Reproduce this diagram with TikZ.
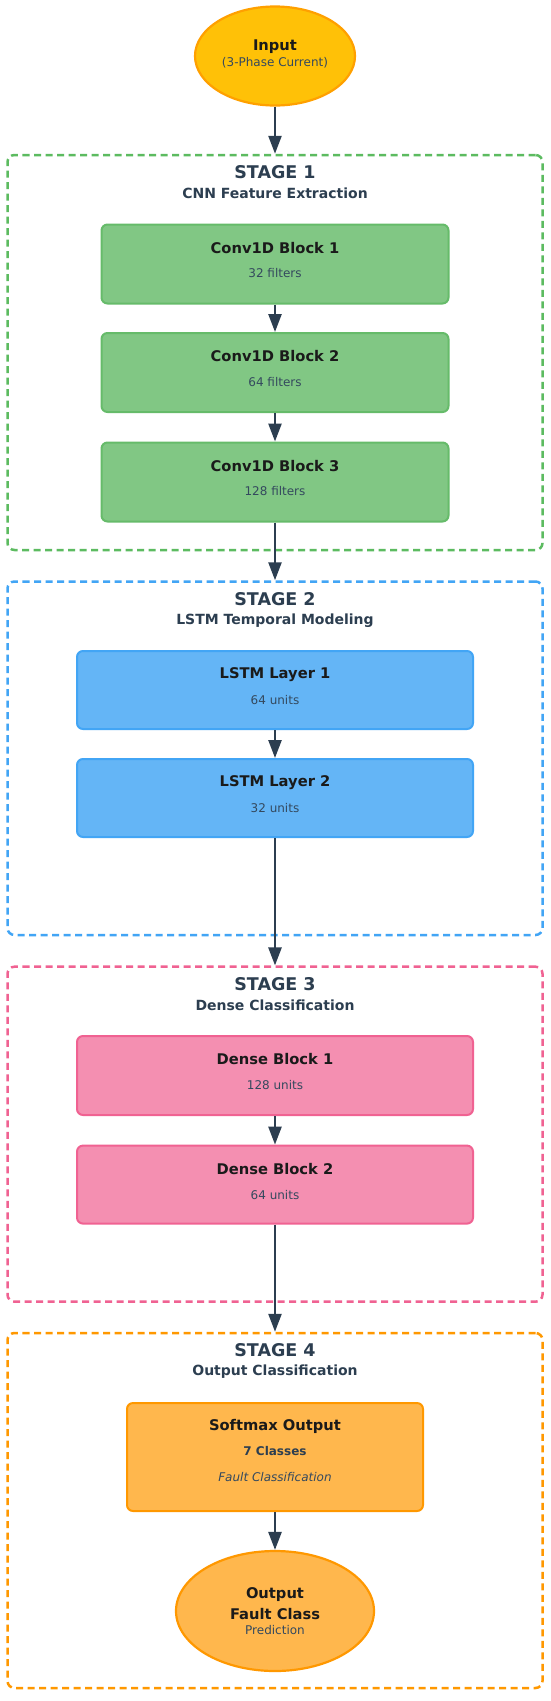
\documentclass[tikz,border=0pt]{standalone}
\usepackage{fontspec}
\setmainfont{DejaVu Sans}
\usetikzlibrary{arrows.meta,shapes.geometric}
\definecolor{arrowc}{HTML}{2C3E50}
\definecolor{titlec}{HTML}{1A1A1A}
\definecolor{subc}{HTML}{34495E}
\definecolor{infill}{HTML}{FFC107}
\definecolor{inline}{HTML}{FFA000}
\definecolor{gdash}{HTML}{5CBB60}
\definecolor{gfill}{HTML}{81C784}
\definecolor{gline}{HTML}{66BB6A}
\definecolor{bdash}{HTML}{42A5F5}
\definecolor{bfill}{HTML}{64B5F6}
\definecolor{bline}{HTML}{42A5F5}
\definecolor{pdash}{HTML}{F06292}
\definecolor{pfill}{HTML}{F48FB1}
\definecolor{pline}{HTML}{F06292}
\definecolor{odash}{HTML}{FF9800}
\definecolor{ofill}{HTML}{FFB74D}
\definecolor{oline}{HTML}{FF9800}
\tikzset{
  stagebox/.style={rectangle, rounded corners=7pt, dash pattern=on 7pt off 4.5pt, line width=2.5pt, minimum width=535pt, inner sep=0pt, fill=white},
  blk/.style={rectangle, rounded corners=6pt, line width=2pt, inner sep=0pt},
  oval/.style={ellipse, line width=2.2pt, inner sep=0pt},
  stt/.style={font=\fontsize{17.5}{21}\selectfont\bfseries, text=arrowc, inner sep=0pt},
  sst/.style={font=\fontsize{14}{17}\selectfont\bfseries, text=arrowc, inner sep=0pt},
  bt/.style={font=\fontsize{14.7}{17}\selectfont\bfseries, text=titlec, inner sep=0pt},
  bs/.style={font=\fontsize{12}{14}\selectfont, text=subc, inner sep=0pt},
  bsb/.style={font=\fontsize{12}{14}\selectfont\bfseries, text=arrowc, inner sep=0pt},
  bsi/.style={font=\fontsize{12}{14}\selectfont\itshape, text=subc, inner sep=0pt},
  flow/.style={-{Triangle[width=13pt,length=18pt]}, line width=2.5pt, draw=arrowc}
}
\begin{document}
\begin{tikzpicture}[x=1pt,y=-1pt]
\useasboundingbox (0,0) rectangle (550,1701);
% input
\node[oval, fill=infill, draw=inline, minimum width=160pt, minimum height=99pt] (in) at (275,56) {};
\node[bt] (inT) at ([yshift=9.5pt]in.center) {Input};
\node[bs] (inS) at ([yshift=-7pt]in.center) {(3-Phase Current)};
% stages
\node[stagebox, draw=gdash, minimum height=395pt] (s1) at (275,352.5) {};
\node[stagebox, draw=bdash, minimum height=353.5pt] (s2) at (275,758.25) {};
\node[stagebox, draw=pdash, minimum height=335pt] (s3) at (275,1134.2) {};
\node[stagebox, draw=odash, minimum height=355pt] (s4) at (275,1510.5) {};
\node[stt] (s1t) at ([yshift=-18.6pt]s1.north) {STAGE 1};
\node[sst] (s1s) at ([yshift=-40pt]s1.north) {CNN Feature Extraction};
\node[stt] (s2t) at ([yshift=-18.6pt]s2.north) {STAGE 2};
\node[sst] (s2s) at ([yshift=-40pt]s2.north) {LSTM Temporal Modeling};
\node[stt] (s3t) at ([yshift=-18.6pt]s3.north) {STAGE 3};
\node[sst] (s3s) at ([yshift=-40pt]s3.north) {Dense Classification};
\node[stt] (s4t) at ([yshift=-18.6pt]s4.north) {STAGE 4};
\node[sst] (s4s) at ([yshift=-40pt]s4.north) {Output Classification};
% stage 1 blocks
\node[blk, fill=gfill, draw=gline, minimum width=347pt, minimum height=79pt] (c1) at (275,264) {};
\node[bt] at ([yshift=-24.5pt]c1.north) {Conv1D Block 1};
\node[bs] at ([yshift=-50pt]c1.north) {32 filters};
\node[blk, fill=gfill, draw=gline, minimum width=347pt, minimum height=79pt] (c2) at (275,372.5) {};
\node[bt] at ([yshift=-24.5pt]c2.north) {Conv1D Block 2};
\node[bs] at ([yshift=-50pt]c2.north) {64 filters};
\node[blk, fill=gfill, draw=gline, minimum width=347pt, minimum height=79pt] (c3) at (275,482) {};
\node[bt] at ([yshift=-24.5pt]c3.north) {Conv1D Block 3};
\node[bs] at ([yshift=-50pt]c3.north) {128 filters};
% stage 2 blocks
\node[blk, fill=bfill, draw=bline, minimum width=396pt, minimum height=78pt] (l1) at (275,690) {};
\node[bt] at ([yshift=-24.5pt]l1.north) {LSTM Layer 1};
\node[bs] at ([yshift=-50pt]l1.north) {64 units};
\node[blk, fill=bfill, draw=bline, minimum width=396pt, minimum height=78pt] (l2) at (275,798) {};
\node[bt] at ([yshift=-24.5pt]l2.north) {LSTM Layer 2};
\node[bs] at ([yshift=-50pt]l2.north) {32 units};
% stage 3 blocks
\node[blk, fill=pfill, draw=pline, minimum width=396pt, minimum height=79pt] (d1) at (275,1075.5) {};
\node[bt] at ([yshift=-24.5pt]d1.north) {Dense Block 1};
\node[bs] at ([yshift=-50pt]d1.north) {128 units};
\node[blk, fill=pfill, draw=pline, minimum width=396pt, minimum height=78pt] (d2) at (275,1184.6) {};
\node[bt] at ([yshift=-24.5pt]d2.north) {Dense Block 2};
\node[bs] at ([yshift=-50pt]d2.north) {64 units};
% stage 4
\node[blk, fill=ofill, draw=oline, minimum width=296pt, minimum height=108pt] (sm) at (275,1457) {};
\node[bt] at ([yshift=-24pt]sm.north) {Softmax Output};
\node[bsb] at ([yshift=-49pt]sm.north) {7 Classes};
\node[bsi] at ([yshift=-75pt]sm.north) {Fault Classification};
\node[oval, fill=ofill, draw=oline, minimum width=198pt, minimum height=120pt] (out) at (275,1611) {};
\node[bt] at ([yshift=16.5pt]out.center) {Output};
\node[bt] at ([yshift=-3pt]out.center) {Fault Class};
\node[bs] at ([yshift=-19.5pt]out.center) {Prediction};
% arrows
\draw[flow] (in.south) -- (s1.north);
\draw[flow] (c1.south) -- (c2.north);
\draw[flow] (c2.south) -- (c3.north);
\draw[flow] (c3.south) -- (s2.north);
\draw[flow] (l1.south) -- (l2.north);
\draw[flow] (l2.south) -- (s3.north);
\draw[flow] (d1.south) -- (d2.north);
\draw[flow] (d2.south) -- (s4.north);
\draw[flow] (sm.south) -- (out.north);
\end{tikzpicture}
\end{document}
